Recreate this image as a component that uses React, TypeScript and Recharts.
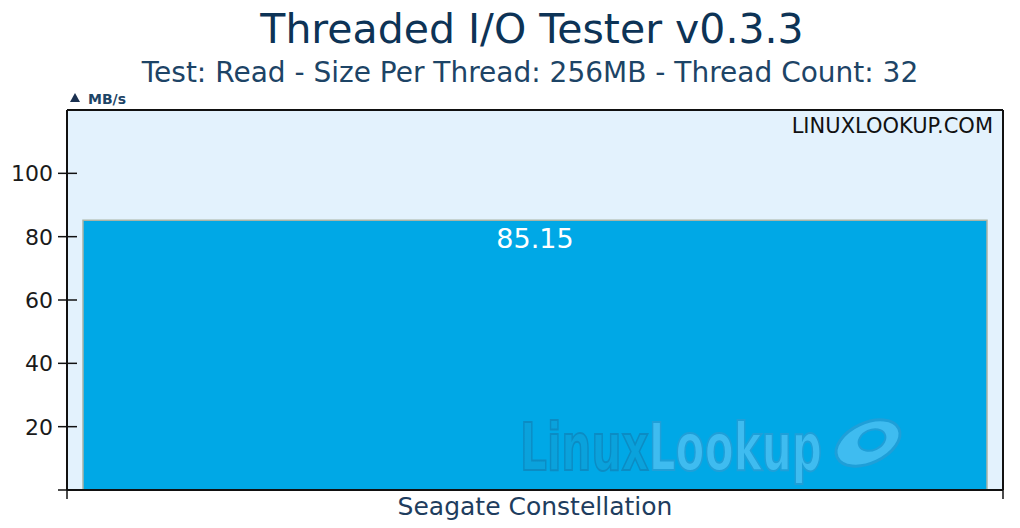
import { Bar, BarChart, CartesianGrid, LabelList, XAxis, YAxis } from 'recharts';

const categories = ['Seagate Constellation'];
const readSpeeds = [85.15];
const yTicks = [0, 20, 40, 60, 80, 100];
const yDomain = [0, 120];

const FONT = '"DejaVu Sans", Verdana, sans-serif';
const INK = '#111';

const data = categories.map((name, i) => ({ name, value: readSpeeds[i] }));

function YTick({ x, y, payload }: any) {
  return (
    <g>
      <line x1={x - 9} x2={x + 10} y1={y} y2={y} stroke={INK} strokeWidth={1.5} />
      {payload.value > 0 && (
        <text x={x - 14} y={y} dy="0.36em" textAnchor="end" fontSize={22} fontFamily={FONT} fill="#1a1a1a">
          {payload.value}
        </text>
      )}
    </g>
  );
}

function XTick({ x, y, width, payload }: any) {
  const half = (width ?? 936) / 2;
  return (
    <g>
      <line x1={x - half} x2={x - half} y1={y} y2={y + 9} stroke={INK} strokeWidth={1.5} />
      <line x1={x + half} x2={x + half} y1={y} y2={y + 9} stroke={INK} strokeWidth={1.5} />
      <text x={x} y={y + 25} textAnchor="middle" fontSize={25} fontFamily={FONT} fill="#1e3d5e">
        {payload.value}
      </text>
    </g>
  );
}

// frame: top edge and right edge of the plot area
const topEdge = ({ offset }: any) => [offset.top];
const rightEdge = ({ offset }: any) => [offset.left + offset.width];

export default function App() {
  return (
    <div style={{ position: 'absolute', left: 0, top: 0, width: 1020, height: 528, background: '#fff' }}>
      <BarChart
        width={1020}
        height={528}
        data={data}
        margin={{ top: 110, right: 17, left: 7, bottom: 8 }}
        barCategoryGap={16}
      >
        <CartesianGrid
          fill="#e3f2fd"
          stroke={INK}
          strokeWidth={2}
          horizontalCoordinatesGenerator={topEdge}
          verticalCoordinatesGenerator={rightEdge}
          syncWithTicks={false}
        />
        <XAxis
          dataKey="name"
          height={30}
          interval={0}
          tickLine={false}
          tickSize={0}
          tickMargin={0}
          tick={<XTick />}
          axisLine={{ stroke: INK, strokeWidth: 2 }}
        />
        <YAxis
          domain={yDomain}
          ticks={yTicks}
          width={60}
          interval={0}
          tickLine={false}
          tickSize={0}
          tickMargin={0}
          tick={<YTick />}
          axisLine={{ stroke: INK, strokeWidth: 2 }}
        />
        <Bar dataKey="value" fill="#00a8e6" stroke="#a9b4a6" strokeWidth={1.5} isAnimationActive={false}>
          <LabelList dataKey="value" position="insideTop" offset={8} fill="#ffffff" fontSize={27} fontFamily={FONT} />
        </Bar>
      </BarChart>
      <svg width={1020} height={528} style={{ position: 'absolute', left: 0, top: 0, pointerEvents: 'none' }}>
        <defs>
          <linearGradient id="wmFill" gradientUnits="userSpaceOnUse" x1={520} x2={822} y1={0} y2={0}>
            <stop offset="0.43" stopColor="#0aa2dc" />
            <stop offset="0.43" stopColor="#3fbcf0" />
          </linearGradient>
          <linearGradient id="wmStroke" gradientUnits="userSpaceOnUse" x1={520} x2={822} y1={0} y2={0}>
            <stop offset="0.43" stopColor="#0b8cc4" />
            <stop offset="0.43" stopColor="#1f9fd8" />
          </linearGradient>
        </defs>
        <text x={532} y={43} textAnchor="middle" fontSize={41} fontFamily={FONT} fill="#0d3356">
          Threaded I/O Tester v0.3.3
        </text>
        <text x={530} y={82} textAnchor="middle" fontSize={28} fontFamily={FONT} fill="#1d4466">
          Test: Read - Size Per Thread: 256MB - Thread Count: 32
        </text>
        <polygon points="70,102 75,93 80,102" fill="#1a3050" />
        <text x={88} y={104} fontSize={14} fontWeight="bold" fontFamily={FONT} fill="#1d4466">
          MB/s
        </text>
        <text x={993} y={133} textAnchor="end" fontSize={21} fontFamily={FONT} fill={INK}>
          LINUXLOOKUP.COM
        </text>
        <text
          x={520}
          y={470}
          fontSize={66}
          fontWeight="bold"
          fontFamily='"DejaVu Sans Condensed", "Liberation Sans", sans-serif'
          textLength={302}
          lengthAdjust="spacingAndGlyphs"
          fill="url(#wmFill)"
          stroke="url(#wmStroke)"
          strokeWidth={2}
        >
          LinuxLookup
        </text>
        <ellipse cx={868} cy={443} rx={34} ry={20} transform="rotate(-25 868 443)" fill="#3fbcf0" stroke="#1f9fd8" strokeWidth={3} />
        <ellipse cx={872} cy={440} rx={14} ry={10} transform="rotate(-25 872 440)" fill="#00a8e6" stroke="#1f9fd8" strokeWidth={2} />
      </svg>
    </div>
  );
}
